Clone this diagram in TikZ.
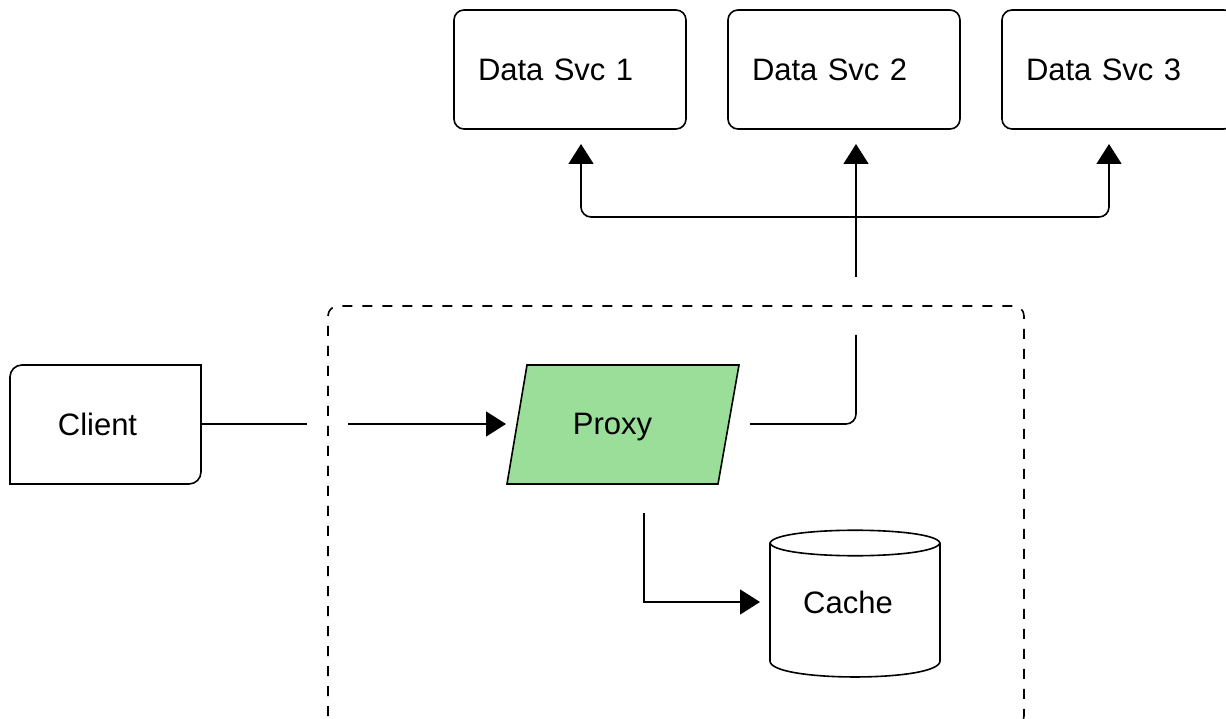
\documentclass[tikz,border=0pt]{standalone}
\usepackage{fontspec}
\setmainfont{Liberation Sans}
\usetikzlibrary{arrows.meta}
\definecolor{proxygreen}{RGB}{154,222,154}
\tikzset{
  line/.style={line width=1.6pt, draw=black},
  conn/.style={line width=1.6pt, draw=black, rounded corners=10pt},
  tip/.style={-{Triangle[length=20pt,width=25pt]}},
  lbl/.style={font=\fontsize{31}{37}\selectfont, inner sep=0pt},
  svcbox/.style={line width=1.6pt, draw=black, rounded corners=10pt,
    font=\fontsize{31}{37}\selectfont, text width=184pt, align=left,
    inner xsep=24pt, inner ysep=0pt, minimum height=119pt, minimum width=232pt},
  groupbox/.style={line width=1.6pt, dash pattern=on 10pt off 10pt, rounded corners=10pt},
}
\begin{document}
\begin{tikzpicture}[x=1pt,y=1pt]
\useasboundingbox (0,0) rectangle (1226,718);
\clip (0,0) rectangle (1226,718);

% group (dashed boundary)
\draw[groupbox] (328,-8) rectangle (1024,412);

% data services
\node[svcbox] (svc1) at (570,648.5) {Data Svc 1};
\node[svcbox] (svc2) at (844,648.5) {Data Svc 2};
\node[svcbox] (svc3) at (1118,648.5) {Data Svc 3};

% client
\draw[line] (10,234) -- (10,341) arc[start angle=180,end angle=90,radius=12]
  -- (201,353) -- (201,246) arc[start angle=0,end angle=-90,radius=12] -- cycle;
\node[lbl] (client) at (97.5,294) {Client};
\coordinate (clientR) at (201,294);

% proxy
\draw[line, fill=proxygreen] (507,234) -- (527,353) -- (739,353) -- (718,234) -- cycle;
\node[lbl, anchor=base] (proxy) at (612.5,283) {Proxy};

% cache
\draw[line, fill=white] (770,175) .. controls (775,192) and (935,192) .. (940,175)
  -- (940,57) .. controls (940,35.7) and (770,35.7) .. (770,57) -- cycle;
\draw[line] (770,175) .. controls (775,158) and (935,158) .. (940,175);
\node[lbl] (cache) at (848,116) {Cache};

% connector end points
\coordinate (cOut) at (307,294);
\coordinate (cIn) at (348,294);
\coordinate (proxyIn) at (506,294);
\coordinate (proxyOut) at (750,294);
\coordinate (proxyUp) at (856,383);
\coordinate (busLow) at (856,441);
\coordinate (proxyDown) at (644,205);
\coordinate (cacheIn) at (760,116);
\coordinate (svc1In) at (581,574);
\coordinate (svc2In) at (856,574);
\coordinate (svc3In) at (1109,574);

% client -> proxy
\draw[line] (clientR) -- (cOut);
\draw[line, tip] (cIn) -- (proxyIn);

% proxy -> upward
\draw[conn] (proxyOut) -| (proxyUp);
\draw[line, tip] (busLow) -- (svc2In);
\draw[conn, {Triangle[length=20pt,width=25pt]}-{Triangle[length=20pt,width=25pt]}]
  (svc1In) -- (581,501) -- (1109,501) -- (svc3In);

% proxy -> cache
\draw[line, tip] (proxyDown) |- (cacheIn);
\end{tikzpicture}
\end{document}
